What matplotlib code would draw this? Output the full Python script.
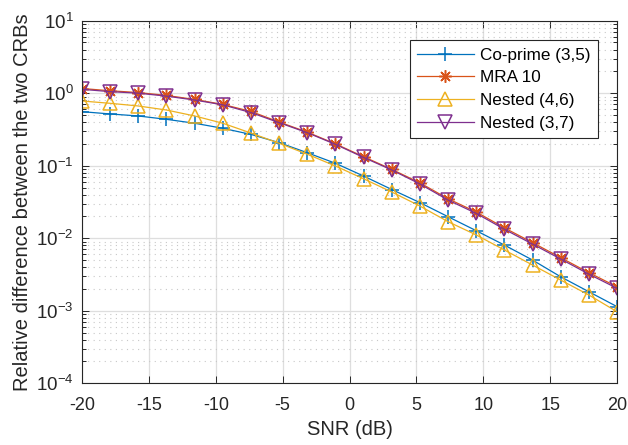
import numpy as np
import matplotlib
matplotlib.use("Agg")
import matplotlib.pyplot as plt
from matplotlib.ticker import LogLocator, NullFormatter

plt.rcParams['font.family'] = ['Liberation Sans', 'DejaVu Sans']
plt.rcParams['mathtext.fontset'] = 'custom'
plt.rcParams['mathtext.rm'] = 'Liberation Sans'
plt.rcParams['mathtext.it'] = 'Liberation Sans:italic'
plt.rcParams['mathtext.bf'] = 'Liberation Sans:bold'
plt.rcParams['axes.unicode_minus'] = False

# SNR grid (dB)
snr_db = np.linspace(-20, 20, 20)

coprime_3_5 = [0.556, 0.517, 0.485, 0.436, 0.385, 0.328, 0.270, 0.208, 0.151, 0.108,
               0.072, 0.047, 0.031, 0.0198, 0.0127, 0.00805, 0.0050, 0.00294, 0.00183, 0.00114]
mra_10 = [1.16, 1.08, 1.02, 0.93, 0.82, 0.70, 0.56, 0.40, 0.29, 0.200,
          0.133, 0.089, 0.058, 0.0350, 0.0230, 0.0139, 0.0087, 0.00540, 0.00335, 0.00214]
nested_4_6 = [0.78, 0.725, 0.666, 0.586, 0.485, 0.385, 0.282, 0.204, 0.144, 0.099,
              0.066, 0.0434, 0.0278, 0.0169, 0.0111, 0.00688, 0.00427, 0.00265, 0.00165, 0.00097]
nested_3_7 = [1.13, 1.05, 1.00, 0.91, 0.805, 0.69, 0.54, 0.392, 0.285, 0.197,
              0.130, 0.0873, 0.056, 0.0336, 0.0220, 0.0133, 0.0083, 0.00517, 0.00320, 0.00204]

asterisk = (8, 2, 0)
series = [
    ("Co-prime (3,5)", coprime_3_5, "#0072BD", "+", dict(markersize=10)),
    ("MRA 10", mra_10, "#D95319", asterisk, dict(markersize=9)),
    ("Nested (4,6)", nested_4_6, "#EDB120", "^", dict(markersize=10, markerfacecolor="none")),
    ("Nested (3,7)", nested_3_7, "#7E2F8E", "v", dict(markersize=10, markerfacecolor="none")),
]

fig = plt.figure(figsize=(6.28, 4.45), dpi=100)
ax = fig.add_axes([0.1306, 0.1386, 0.852, 0.815])

for label, vals, color, marker, kw in series:
    ax.semilogy(snr_db, vals, color=color, marker=marker, linewidth=0.9,
                markeredgewidth=1.1, label=label, **kw)

ax.set_xlim(-20, 20)
ax.set_ylim(1e-4, 1e1)
ax.set_xticks(np.arange(-20, 21, 5))
ax.yaxis.set_major_locator(LogLocator(base=10, numticks=10))
ax.yaxis.set_minor_locator(LogLocator(base=10, subs=np.arange(2, 10), numticks=20))
ax.yaxis.set_minor_formatter(NullFormatter())

ax.grid(True, which='major', color='#dedede', linewidth=0.9, linestyle='-')
ax.grid(True, which='minor', axis='y', color='#c8c8c8', linewidth=0.8, linestyle=(0, (1, 4)))
ax.set_axisbelow(True)

ax.tick_params(which='both', direction='in', top=True, right=True,
               colors='#262626', width=0.7)
ax.tick_params(axis='x', which='major', labelsize=13, pad=10)
ax.tick_params(axis='y', which='major', labelsize=13.5, pad=6)
ax.tick_params(which='major', length=5)
ax.tick_params(which='minor', length=3)
for s in ax.spines.values():
    s.set_color('#262626')
    s.set_linewidth(0.8)

ax.set_xlabel("SNR (dB)", fontsize=14.5, color='#262626', labelpad=4)
ax.set_ylabel("Relative difference between the two CRBs", fontsize=14.5, color='#262626', labelpad=3)

leg = ax.legend(loc='upper right', bbox_to_anchor=(0.964, 0.947), fontsize=12.3,
                frameon=True, fancybox=False, edgecolor='#262626', framealpha=1,
                handlelength=3.3, borderpad=0.45, labelspacing=0.45, handletextpad=0.35,
                borderaxespad=0)
leg.get_frame().set_linewidth(0.8)

fig.savefig("out.png", dpi=100)
